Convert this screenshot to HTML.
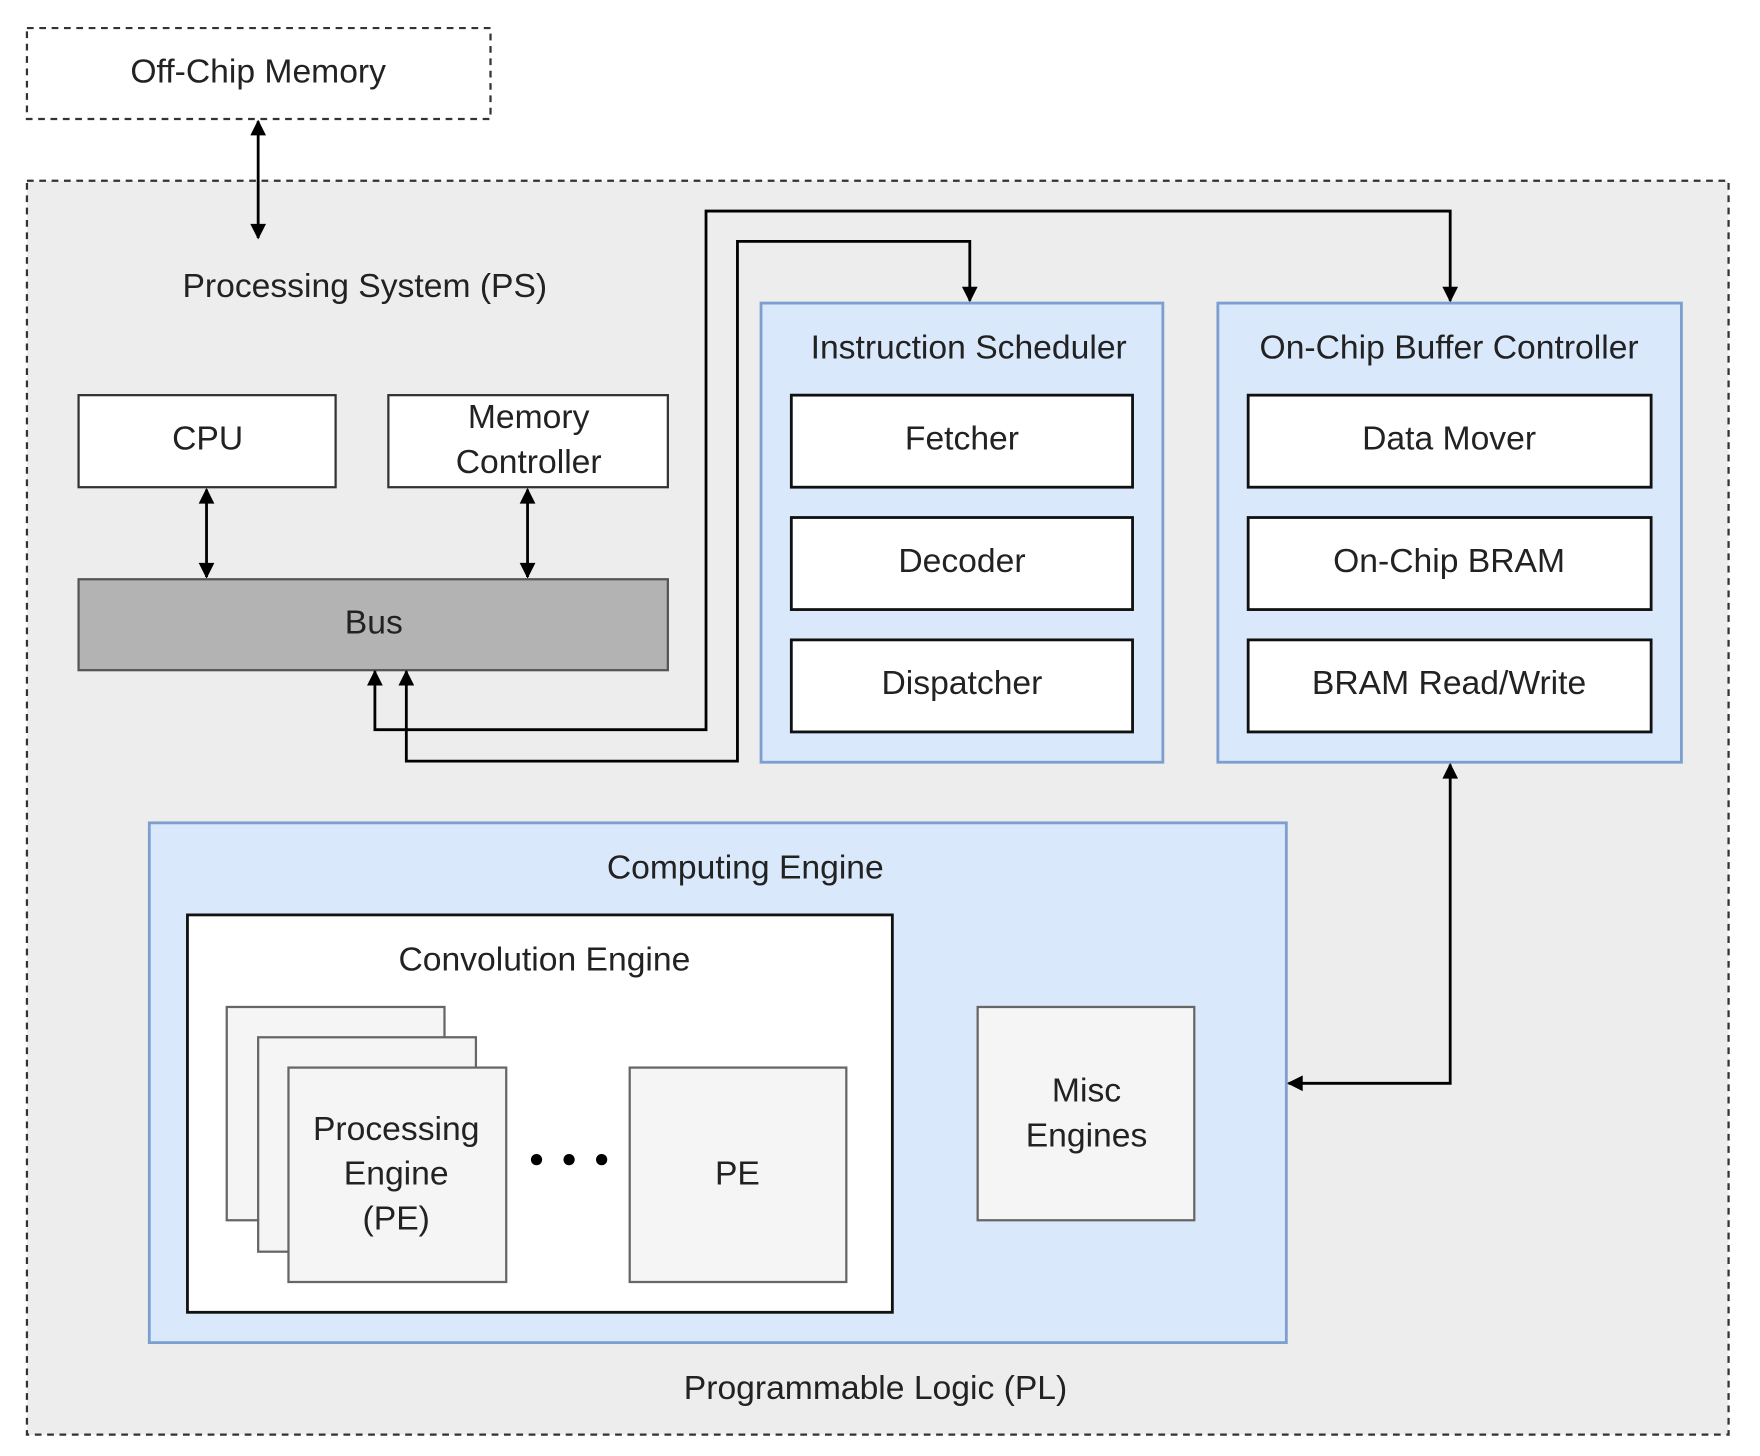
<!DOCTYPE html>
<html><head><style>html,body{margin:0;padding:0;background:#fff}svg{display:block}text{font-family:"Liberation Sans",sans-serif;font-size:30px;fill:#222;text-anchor:middle;dominant-baseline:central}</style></head>
<body>
<svg width="1760" height="1456" viewBox="0 0 1568 1297" preserveAspectRatio="none" xmlns="http://www.w3.org/2000/svg">
<defs>
<marker id="a" viewBox="0 0 10 10" refX="9" refY="5" markerWidth="7" markerHeight="6" markerUnits="userSpaceOnUse" orient="auto-start-reverse"><path d="M0,0L10,5L0,10z" fill="#000"/></marker>
</defs>
<defs><marker id="b" viewBox="0 0 10 10" refX="9" refY="5" markerWidth="18" markerHeight="14" markerUnits="userSpaceOnUse" orient="auto-start-reverse"><path d="M0,0L10,5L0,10z" fill="#000"/></marker></defs>
<rect x="24" y="25" width="413" height="81" fill="#fff" stroke="#333" stroke-width="2" stroke-dasharray="6,5"/>
<text x="230" y="64">Off-Chip Memory</text>
<rect x="24" y="161" width="1516" height="1117" fill="#ededed" stroke="#333" stroke-width="2" stroke-dasharray="6,5"/>
<line x1="230" y1="108" x2="230" y2="212" stroke="#000" stroke-width="2.5" marker-start="url(#b)" marker-end="url(#b)"/>
<text x="325" y="255">Processing System (PS)</text>
<rect x="70" y="352" width="229" height="82" fill="#fff" stroke="#333" stroke-width="2"/>
<text x="185" y="391">CPU</text>
<rect x="346" y="352" width="249" height="82" fill="#fff" stroke="#333" stroke-width="2"/>
<text x="471" y="372">Memory</text><text x="471" y="412">Controller</text>
<line x1="184" y1="436" x2="184" y2="514" stroke="#000" stroke-width="2.5" marker-start="url(#b)" marker-end="url(#b)"/>
<line x1="470" y1="436" x2="470" y2="514" stroke="#000" stroke-width="2.5" marker-start="url(#b)" marker-end="url(#b)"/>
<rect x="70" y="516" width="525" height="81" fill="#b3b3b3" stroke="#555" stroke-width="2"/>
<text x="333" y="555">Bus</text>
<rect x="678" y="270" width="358" height="409" fill="#dae8fc" stroke="#7c9fd0" stroke-width="2.5"/>
<text x="863" y="310">Instruction Scheduler</text>
<rect x="705" y="352" width="304" height="82" fill="#fff" stroke="#111" stroke-width="2.5"/><text x="857" y="391">Fetcher</text>
<rect x="705" y="461" width="304" height="82" fill="#fff" stroke="#111" stroke-width="2.5"/><text x="857" y="500">Decoder</text>
<rect x="705" y="570" width="304" height="82" fill="#fff" stroke="#111" stroke-width="2.5"/><text x="857" y="609">Dispatcher</text>
<rect x="1085" y="270" width="413" height="409" fill="#dae8fc" stroke="#7c9fd0" stroke-width="2.5"/>
<text x="1291" y="310">On-Chip Buffer Controller</text>
<rect x="1112" y="352" width="359" height="82" fill="#fff" stroke="#111" stroke-width="2.5"/><text x="1291" y="391">Data Mover</text>
<rect x="1112" y="461" width="359" height="82" fill="#fff" stroke="#111" stroke-width="2.5"/><text x="1291" y="500">On-Chip BRAM</text>
<rect x="1112" y="570" width="359" height="82" fill="#fff" stroke="#111" stroke-width="2.5"/><text x="1291" y="609">BRAM Read/Write</text>
<polyline points="1292,268 1292,188 629,188 629,650 334,650 334,598" fill="none" stroke="#000" stroke-width="2.5" marker-start="url(#b)" marker-end="url(#b)"/>
<polyline points="864,268 864,215 657,215 657,678 362,678 362,598" fill="none" stroke="#000" stroke-width="2.5" marker-start="url(#b)" marker-end="url(#b)"/>
<rect x="133" y="733" width="1013" height="463" fill="#dae8fc" stroke="#7c9fd0" stroke-width="2.5"/>
<text x="664" y="773">Computing Engine</text>
<rect x="167" y="815" width="628" height="354" fill="#fff" stroke="#111" stroke-width="2.5"/>
<text x="485" y="855">Convolution Engine</text>
<rect x="202" y="897" width="194" height="190" fill="#f5f5f5" stroke="#666" stroke-width="2"/>
<rect x="230" y="924" width="194" height="191" fill="#f5f5f5" stroke="#666" stroke-width="2"/>
<rect x="257" y="951" width="194" height="191" fill="#f5f5f5" stroke="#666" stroke-width="2"/>
<text x="353" y="1006">Processing</text><text x="353" y="1046">Engine</text><text x="353" y="1086">(PE)</text>
<circle cx="478" cy="1033" r="5" fill="#000"/><circle cx="507" cy="1033" r="5" fill="#000"/><circle cx="536" cy="1033" r="5" fill="#000"/>
<rect x="561" y="951" width="193" height="191" fill="#f5f5f5" stroke="#666" stroke-width="2"/>
<text x="657" y="1046">PE</text>
<rect x="871" y="897" width="193" height="190" fill="#f5f5f5" stroke="#666" stroke-width="2"/>
<text x="968" y="972">Misc</text><text x="968" y="1012">Engines</text>
<polyline points="1292,681 1292,965 1148,965" fill="none" stroke="#000" stroke-width="2.5" marker-start="url(#b)" marker-end="url(#b)"/>
<text x="780" y="1237">Programmable Logic (PL)</text>
</svg>
</body></html>
